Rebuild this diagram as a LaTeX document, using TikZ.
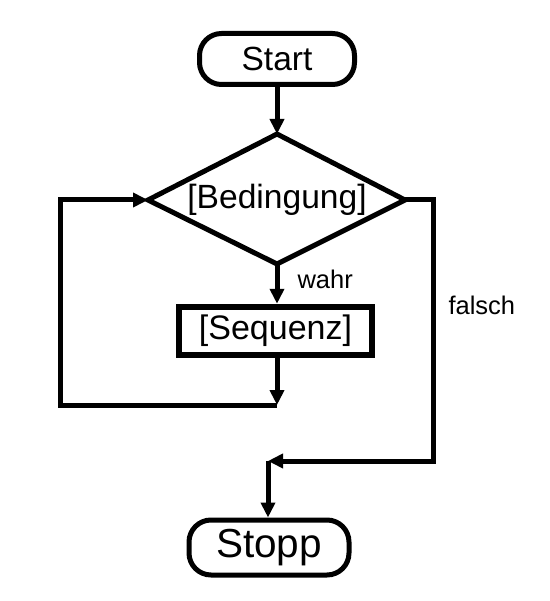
\documentclass[tikz,border=0pt]{standalone}
\usepackage{fontspec}
\setmainfont{Liberation Sans}
\usetikzlibrary{arrows.meta}
\begin{document}
\begin{tikzpicture}[x=1pt,y=-1pt,line width=5pt,
  >={Triangle[length=15pt,width=14pt]},
  term/.style={draw,rounded corners=22pt,inner sep=0pt},
  procbox/.style={draw,line width=6.5pt,inner sep=0pt,minimum width=193pt,minimum height=48pt,font=\fontsize{34pt}{38pt}\selectfont},
  lbl/.style={anchor=west,inner sep=0pt,font=\fontsize{25.5pt}{29pt}\selectfont}]
\useasboundingbox (0,0) rectangle (549,601);
% terminals
\node[term,minimum width=155pt,minimum height=51pt,font=\fontsize{33.5pt}{38pt}\selectfont] (start) at (277,59) {Start};
\node[term,minimum width=160pt,minimum height=55pt,font=\fontsize{40.5pt}{45pt}\selectfont] (stop) at (269,547.5) {Stopp};
% decision
\coordinate (dt) at (277,134);
\coordinate (db) at (277,264);
\coordinate (dl) at (148,200);
\coordinate (dr) at (405,200);
\draw[line join=miter] (dt) -- (dr) -- (db) -- (dl) -- cycle;
\node[font=\fontsize{33.6pt}{38pt}\selectfont] (cond) at (277,200) {[Bedingung]};
% process
\node[procbox] (seq) at (275.5,331) {[Sequenz]};
% helper coordinates
\coordinate (lc) at (277,405);
\coordinate (lx) at (60,200);
\coordinate (rx) at (433,200);
\coordinate (fc) at (268,461);
% connectors
\draw[->] (start) -- (dt);
\draw[->] (db) -- (db |- seq.north);
\draw[->] (seq.south -| lc) -- (lc);
\draw[->] (lc) -- (lc -| lx) -- (lx) -- (dl);
\draw[->] (dr) -- (rx) -- (rx |- fc) -- (fc);
\draw[->] (fc) -- (fc |- stop.north);
% labels
\node[lbl] (wahr) at (295,279) {wahr};
\node[lbl] (falsch) at (446,305) {falsch};
\end{tikzpicture}
\end{document}
